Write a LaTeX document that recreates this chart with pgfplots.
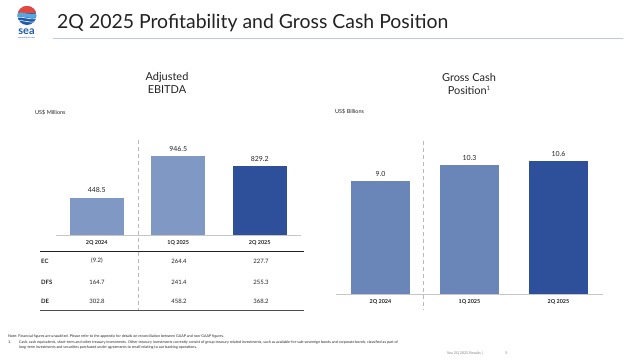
\documentclass[border=0pt]{standalone}
\usepackage{pgfplots}
\pgfplotsset{compat=1.18}
\usepackage{fontspec}
\setmainfont{Lato}
\definecolor{lightbar}{RGB}{127,152,196}
\definecolor{midbar}{RGB}{106,134,184}
\definecolor{darkbar}{RGB}{46,80,155}
\definecolor{txt}{RGB}{34,34,34}
\definecolor{rule}{RGB}{190,200,235}
\definecolor{seared}{RGB}{232,69,60}
\definecolor{seablue}{RGB}{30,90,170}
\definecolor{sealight}{RGB}{80,170,225}
\begin{document}
\begin{tikzpicture}

\pgfplotsset{slidebar/.style={
  anchor=south west, scale only axis,
  xmin=-0.5, xmax=2.5, ymin=0,
  axis x line=bottom, axis y line=none,
  x axis line style={-, draw=gray!45, line width=1bp},
  ybar, bar width=0.66, bar shift=0pt,
  xtick={0,1,2}, major tick length=0pt,
  xticklabel style={font=\fontsize{5.5}{6}\selectfont\bfseries, text=txt, yshift=-2bp},
  nodes near coords, point meta=explicit symbolic,
  every node near coord/.append style={font=\fontsize{7}{7}\selectfont, text=txt, yshift=1bp},
  clip=false}}

% left chart
\begin{axis}[slidebar, at={(56bp,-235bp)}, width=244.5bp, height=83.5bp, ymax=1000,
  xticklabels={2Q 2024,1Q 2025,2Q 2025}]
\addplot[fill=lightbar, draw=none] coordinates {(0,448.5) [448.5]};
\addplot[fill=lightbar, draw=none] coordinates {(1,946.5) [946.5]};
\addplot[fill=darkbar, draw=none] coordinates {(2,829.2) [829.2]};
\end{axis}

% right chart
\begin{axis}[slidebar, at={(336bp,-294bp)}, width=267bp, height=150.7bp, ymax=12,
  xticklabels={2Q 2024,1Q 2025,2Q 2025}]
\addplot[fill=midbar, draw=none] coordinates {(0,9.0) [9.0]};
\addplot[fill=midbar, draw=none] coordinates {(1,10.3) [10.3]};
\addplot[fill=darkbar, draw=none] coordinates {(2,10.6) [10.6]};
\end{axis}

\begin{scope}[x=1bp,y=-1bp]
% logo
\begin{scope}
\clip (27,15.5) circle (9.5);
\fill[seablue] (17,5) rectangle (37,26);
\fill[seared] (17,5) rectangle (37,13);
\fill[sealight] (17,13) .. controls (22,11) and (30,16) .. (37,13) -- (37,17) .. controls (30,20) and (22,15) .. (17,17) -- cycle;
\draw[white,line width=0.6] (17,17.5) .. controls (22,15.5) and (30,21) .. (37,18);
\draw[white,line width=0.6] (17,21) .. controls (22,19) and (30,24) .. (37,21.5);
\end{scope}
\node[anchor=base, text=seablue, font=\fontsize{11}{11}\selectfont\bfseries, inner sep=0] at (26.5,34) {sea};
\node[anchor=base, text=seablue, font=\fontsize{2}{2}\selectfont, inner sep=0] at (26.5,38) {connecting the dots};
% title
\node[anchor=base west, inner sep=0, text=txt, font=\fontsize{19.5}{20}\selectfont] at (57,28) {2Q 2025 Profitability and Gross Cash Position};
\draw[rule, line width=0.8] (53,38) -- (623,38);
% chart titles
\node[align=center, text=txt, font=\fontsize{11}{13}\selectfont] at (167,83) {Adjusted\\EBITDA};
\node[align=center, text=txt, font=\fontsize{11}{13}\selectfont] at (469,84) {Gross Cash\\Position{\fontsize{6}{6}\selectfont\raisebox{4bp}{1}}};
\node[anchor=west, inner sep=0, text=txt, font=\fontsize{5.5}{6}\selectfont] at (35,113) {US\$ Millions};
\node[anchor=west, inner sep=0, text=txt, font=\fontsize{5.5}{6}\selectfont] at (335,112) {US\$ Billions};

% dashed separators
\draw[gray!55, line width=0.8, dash pattern=on 4bp off 3bp] (138,140) -- (138,310);
\draw[gray!55, line width=0.8, dash pattern=on 4bp off 3bp] (423,141) -- (423,310);

% table
\draw[txt, line width=0.8] (40,251) -- (304,251);
\draw[txt!80, line width=0.8] (40,310) -- (304,310);
\begin{scope}[every node/.style={text=txt, font=\fontsize{6}{7}\selectfont, inner sep=0}]
\node[anchor=west, font=\fontsize{6}{7}\selectfont\bfseries] at (41,261) {EC};
\node[anchor=west, font=\fontsize{6}{7}\selectfont\bfseries] at (41,282) {DFS};
\node[anchor=west, font=\fontsize{6}{7}\selectfont\bfseries] at (41,301) {DE};
\node at (97,261) {(9.2)};
\node at (179,261) {264.4};
\node at (261,261) {227.7};
\node at (97,282) {164.7};
\node at (179,282) {241.4};
\node at (261,282) {255.3};
\node at (97,301) {302.8};
\node at (179,301) {458.2};
\node at (261,301) {368.2};
\end{scope}

% footnotes
\begin{scope}[every node/.style={anchor=base west, inner sep=0, text=txt, font=\fontsize{3.7}{4}\selectfont}]
\node at (8,337) {Note: Financial figures are unaudited. Please refer to the appendix for details on reconciliation between GAAP and non-GAAP figures.};
\node at (8,343) {1.};
\node at (19,343) {Cash, cash equivalents, short-term and other treasury investments. Other treasury investments currently consist of group treasury related investments, such as available-for-sale sovereign bonds and corporate bonds, classified as part of};
\node at (19,348.5) {long-term investments and securities purchased under agreements to resell relating to our banking operations.};
\node[text=gray] at (447,354.5) {Sea 2Q 2025 Results |};
\node[text=gray] at (505,354.5) {5};
\end{scope}
\end{scope}
\pgfresetboundingbox
\path[use as bounding box] (0,0) rectangle (640bp,-362bp);
\end{tikzpicture}
\end{document}
